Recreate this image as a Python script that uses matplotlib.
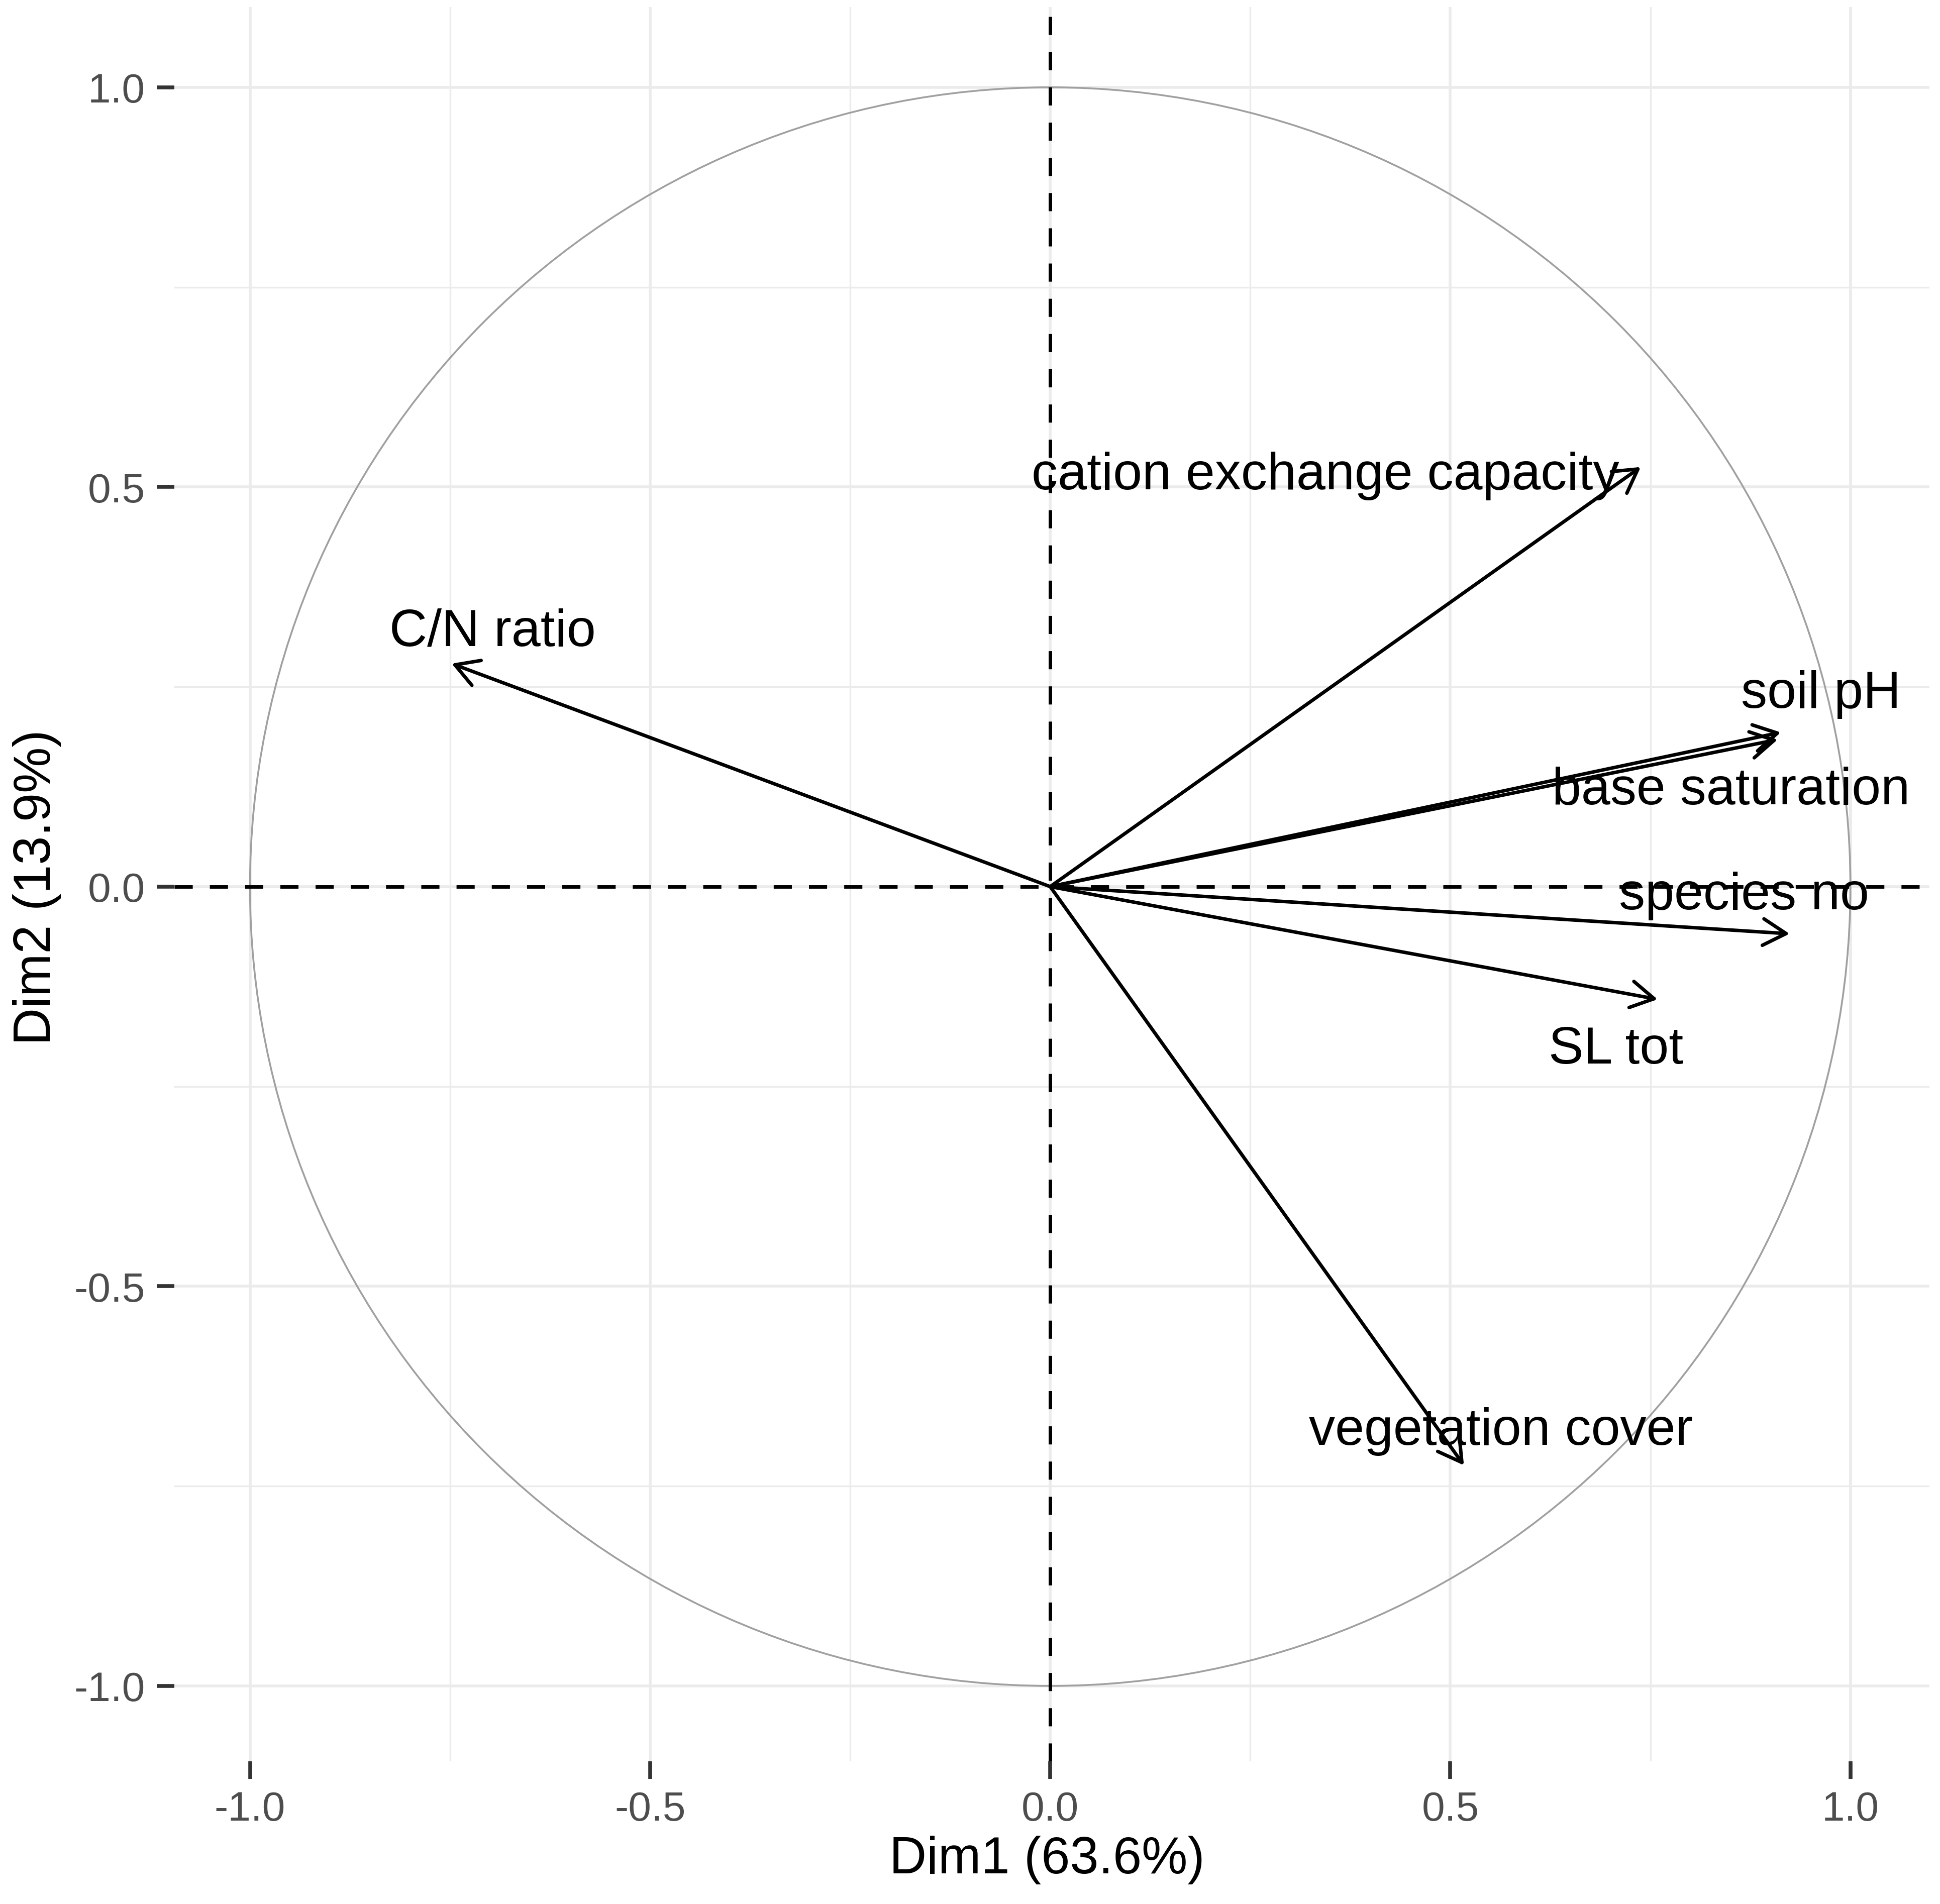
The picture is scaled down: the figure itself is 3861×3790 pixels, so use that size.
import matplotlib
matplotlib.use("Agg")
import matplotlib.pyplot as plt
from matplotlib.patches import Circle, FancyArrowPatch, ArrowStyle

plt.rcParams['font.family'] = ['Liberation Sans', 'DejaVu Sans']

# ---- data ----
variables = ["cation exchange capacity", "C/N ratio", "soil pH", "base saturation",
             "species no", "SL tot", "vegetation cover"]
dim1 = [0.738, -0.748, 0.913, 0.909, 0.924, 0.759, 0.517]
dim2 = [0.525, 0.279, 0.193, 0.184, -0.059, -0.141, -0.724]
label_x = [0.344, -0.697, 0.963, 0.851, 0.867, 0.707, 0.563]
label_y = [0.498, 0.302, 0.224, 0.104, -0.028, -0.221, -0.698]
ticks = [-1.0, -0.5, 0.0, 0.5, 1.0]
minor_ticks = [-0.75, -0.25, 0.25, 0.75]
tick_labels = ["-1.0", "-0.5", "0.0", "0.5", "1.0"]
xlabel = "Dim1 (63.6%)"
ylabel = "Dim2 (13.9%)"

DPI = 100
fig = plt.figure(figsize=(38.62, 37.91), dpi=DPI)
ax = fig.add_axes([0.0899, 0.0749, 0.9043, 0.9212])
ax.set_xlim(-1.0944, 1.0985)
ax.set_ylim(-1.0944, 1.1006)

for s in ax.spines.values():
    s.set_visible(False)

grid_c = '#EBEBEB'
for t in ticks:
    ax.axvline(t, color=grid_c, lw=4.0, zorder=0)
    ax.axhline(t, color=grid_c, lw=4.0, zorder=0)
for t in minor_ticks:
    ax.axvline(t, color=grid_c, lw=2.4, zorder=0)
    ax.axhline(t, color=grid_c, lw=2.4, zorder=0)

# correlation circle
ax.add_patch(Circle((0, 0), 1.0, fill=False, edgecolor='#A0A0A0', lw=2.6, zorder=1))

# dashed axes
ax.axhline(0, color='black', lw=5.0, dashes=(5.2, 4.9), zorder=2)
ax.axvline(0, color='black', lw=5.0, dashes=(5.2, 4.9), zorder=2)

style = ArrowStyle('->', head_length=3.3, head_width=1.9)
for x, y in zip(dim1, dim2):
    arr = FancyArrowPatch((0, 0), (x, y), arrowstyle=style, mutation_scale=10,
                          color='black', lw=5.0, shrinkA=0, shrinkB=0,
                          capstyle='round', joinstyle='round', zorder=3)
    ax.add_patch(arr)

for name, lx, ly in zip(variables, label_x, label_y):
    ax.text(lx, ly, name, fontsize=75, color='black', ha='center', va='baseline', zorder=4)

ax.set_xticks(ticks)
ax.set_yticks(ticks)
ax.set_xticklabels(tick_labels)
ax.set_yticklabels(tick_labels)
ax.tick_params(axis='both', which='major', length=25, width=5.5, color='#333333',
               labelsize=59, labelcolor='#4D4D4D', pad=17)
ax.set_xticks([], minor=True)
ax.set_yticks([], minor=True)

fig.text(0.5395, 0.0234, xlabel, fontsize=74, ha='center', va='center')
fig.text(0.0191, 0.534, ylabel, fontsize=74, ha='center', va='center', rotation=90)

fig.savefig('out.png', dpi=DPI, facecolor='white')
